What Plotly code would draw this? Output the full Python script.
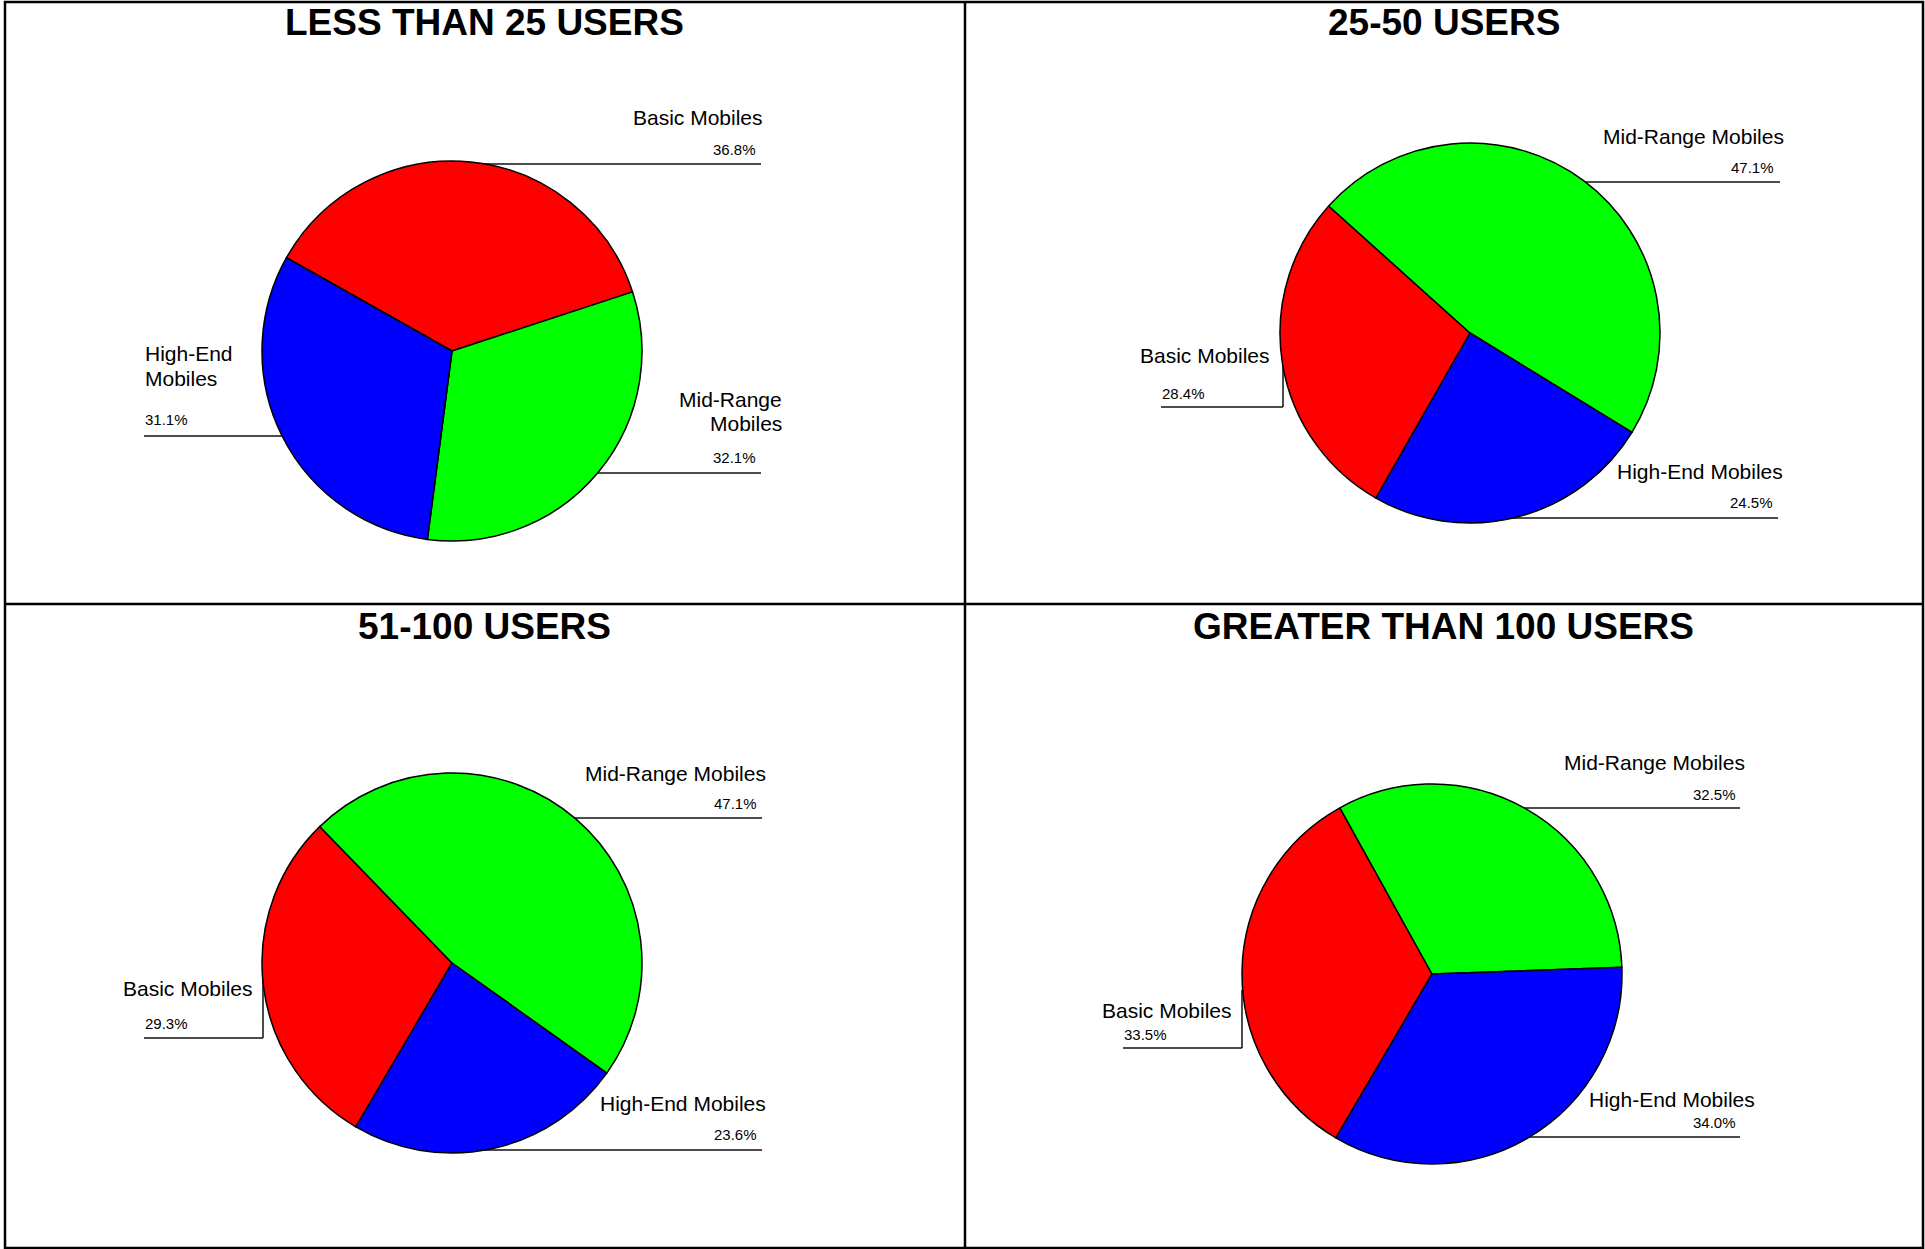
import plotly.graph_objects as go

W, H = 1925, 1249

# ---------------- data ----------------
categories = ["Basic Mobiles", "Mid-Range Mobiles", "High-End Mobiles"]
panel_titles = ["LESS THAN 25 USERS", "25-50 USERS", "51-100 USERS", "GREATER THAN 100 USERS"]
basic_share = [36.8, 28.4, 29.3, 33.5]
midrange_share = [32.1, 47.1, 47.1, 32.5]
highend_share = [31.1, 24.5, 23.6, 34.0]

# ---------------- styles / layout (pixels) ----------------
slice_colors = ["#FF0000", "#00FF00", "#0000FF"]
pie_centers = [(452, 351), (1470, 333), (452, 963), (1432, 974)]
pie_radius = 190
pie_rotation = [299.4, 209.7, 210.4, 210.4]
title_pos = [(484, 35), (1444, 35), (484, 639), (1443, 639)]  # x centre, baseline
FONT = "Liberation Sans, Arial, sans-serif"
NAME_SIZE = 21
PCT_SIZE = 15
TITLE_SIZE = 37

# per panel, per category: name lines (text, x, baseline, anchor), pct (x, baseline, anchor), leader polyline
label_layout = [
    {  # panel 1
        0: dict(name=[("Basic Mobiles", 764, 125, "right")], pct=(757, 155, "right"),
                leader=[(761, 164), (452, 164)]),
        1: dict(name=[("Mid-Range", 783, 407, "right"), ("Mobiles", 783, 431, "right")],
                pct=(757, 463, "right"), leader=[(761, 473), (452, 473)]),
        2: dict(name=[("High-End", 144, 361, "left"), ("Mobiles", 144, 386, "left")],
                pct=(144, 425, "left"), leader=[(144, 436), (452, 436)]),
    },
    {  # panel 2
        0: dict(name=[("Basic Mobiles", 1271, 363, "right")], pct=(1161, 399, "left"),
                leader=[(1161, 407), (1283, 407), (1283, 345)]),
        1: dict(name=[("Mid-Range Mobiles", 1785, 144, "right")], pct=(1775, 173, "right"),
                leader=[(1780, 182), (1470, 182)]),
        2: dict(name=[("High-End Mobiles", 1784, 479, "right")], pct=(1774, 508, "right"),
                leader=[(1778, 518), (1470, 518)]),
    },
    {  # panel 3
        0: dict(name=[("Basic Mobiles", 254, 996, "right")], pct=(144, 1029, "left"),
                leader=[(144, 1038), (263, 1038), (263, 975)]),
        1: dict(name=[("Mid-Range Mobiles", 767, 781, "right")], pct=(758, 809, "right"),
                leader=[(762, 818), (452, 818)]),
        2: dict(name=[("High-End Mobiles", 767, 1111, "right")], pct=(758, 1140, "right"),
                leader=[(762, 1150), (452, 1150)]),
    },
    {  # panel 4
        0: dict(name=[("Basic Mobiles", 1233, 1018, "right")], pct=(1123, 1040, "left"),
                leader=[(1123, 1048), (1242, 1048), (1242, 990)]),
        1: dict(name=[("Mid-Range Mobiles", 1746, 770, "right")], pct=(1737, 800, "right"),
                leader=[(1740, 808), (1432, 808)]),
        2: dict(name=[("High-End Mobiles", 1756, 1107, "right")], pct=(1737, 1128, "right"),
                leader=[(1740, 1137), (1432, 1137)]),
    },
]


def px(x):
    return x / W


def py(y):
    return 1 - y / H


def mid_y(baseline, size):
    return py(baseline - 0.35 * size)


fig = go.Figure()
annotations = []
shapes = []

for p in range(4):
    values = [basic_share[p], midrange_share[p], highend_share[p]]
    cx, cy = pie_centers[p]
    fig.add_trace(go.Pie(
        labels=categories,
        values=values,
        sort=False,
        direction="clockwise",
        rotation=pie_rotation[p],
        marker=dict(colors=slice_colors, line=dict(color="#000000", width=1.5)),
        textinfo="none",
        hoverinfo="label+percent",
        showlegend=False,
        domain=dict(x=[px(cx - pie_radius), px(cx + pie_radius)],
                    y=[py(cy + pie_radius), py(cy - pie_radius)]),
    ))

    tx, tb = title_pos[p]
    annotations.append(dict(
        text="<b>%s</b>" % panel_titles[p], x=px(tx), y=mid_y(tb, TITLE_SIZE),
        xref="paper", yref="paper", xanchor="center", yanchor="middle",
        showarrow=False, font=dict(family=FONT, size=TITLE_SIZE, color="#000000"),
    ))

    for ci in range(3):
        spec = label_layout[p][ci]
        for (txt, x, b, anc) in spec["name"]:
            annotations.append(dict(
                text=txt, x=px(x), y=mid_y(b, NAME_SIZE), xref="paper", yref="paper",
                xanchor=anc, yanchor="middle", showarrow=False, borderpad=0,
                font=dict(family=FONT, size=NAME_SIZE, color="#000000"),
            ))
        x, b, anc = spec["pct"]
        annotations.append(dict(
            text="%.1f%%" % values[ci], x=px(x), y=mid_y(b, PCT_SIZE), xref="paper", yref="paper",
            xanchor=anc, yanchor="middle", showarrow=False, borderpad=0,
            font=dict(family=FONT, size=PCT_SIZE, color="#000000"),
        ))
        pts = spec["leader"]
        for (x0, y0), (x1, y1) in zip(pts[:-1], pts[1:]):
            shapes.append(dict(
                type="line", xref="paper", yref="paper",
                x0=px(x0), y0=py(y0), x1=px(x1), y1=py(y1),
                line=dict(color="#111111", width=1.5), layer="below",
            ))

# panel frame
shapes.append(dict(type="rect", xref="paper", yref="paper",
                   x0=px(5), y0=py(1248), x1=px(1923), y1=py(2),
                   line=dict(color="#000000", width=2.5), layer="above"))
shapes.append(dict(type="line", xref="paper", yref="paper",
                   x0=px(965), y0=py(2), x1=px(965), y1=py(1248),
                   line=dict(color="#000000", width=2.5), layer="above"))
shapes.append(dict(type="line", xref="paper", yref="paper",
                   x0=px(5), y0=py(604), x1=px(1923), y1=py(604),
                   line=dict(color="#000000", width=2.5), layer="above"))

fig.update_layout(
    width=W, height=H,
    margin=dict(l=0, r=0, t=0, b=0),
    paper_bgcolor="#FFFFFF", plot_bgcolor="#FFFFFF",
    annotations=annotations, shapes=shapes,
    showlegend=False,
    font=dict(family=FONT),
)

fig.write_html("out.html",
               config={"displayModeBar": False},
               post_script="document.body.style.margin='0';document.body.style.overflow='hidden';")
